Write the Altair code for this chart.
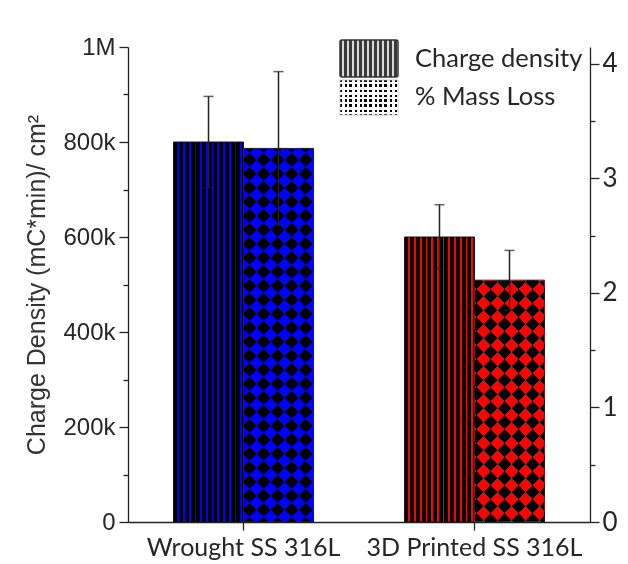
import altair as alt
import pandas as pd

# ---------------- data ----------------
categories = ["Wrought SS 316L", "3D Printed SS 316L"]
series = ["Charge density", "% Mass Loss"]
charge_density = [800000, 600000]
charge_error = [96000, 68000]
mass_loss = [3.26, 2.11]
mass_error = [0.67, 0.26]
bar_colors = ["#0000ff", "#ff0000"]

# ---------------- layout ----------------
W, H = 462, 475
LEFT_MAX = 1_000_000
RIGHT_MAX = 4.145
P_OUT = 0.65
BAR_W = (W / len(categories)) / (2 + 2 * P_OUT)

charge_df = pd.DataFrame({"category": categories, "series": series[0],
                          "value": charge_density, "err": charge_error})
charge_df["lo"] = charge_df["value"] - charge_df["err"]
charge_df["hi"] = charge_df["value"] + charge_df["err"]
mass_df = pd.DataFrame({"category": categories, "series": series[1],
                        "value": mass_loss, "err": mass_error})
mass_df["lo"] = mass_df["value"] - mass_df["err"]
mass_df["hi"] = mass_df["value"] + mass_df["err"]


def stripe_stops(total, pattern, shift=0.0):
    """Sharp-edged gradient stops repeating `pattern` [(px, colour), ...] over `total` px."""
    stops = []
    pos = -shift
    while pos < total:
        for length, col in pattern:
            a, b = max(pos, 0.0), min(pos + length, total)
            if b > a:
                stops.append({"offset": round(a / total, 5), "color": col})
                stops.append({"offset": round(b / total, 5), "color": col})
            pos += length
    return stops


def vertical_stripes(width, pattern, shift=0.0):
    return {"gradient": "linear", "x1": 0, "y1": 0, "x2": 1, "y2": 0,
            "stops": stripe_stops(width, pattern, shift)}


def horizontal_stripes(height, pattern, shift=0.0):
    return {"gradient": "linear", "x1": 0, "y1": 0, "x2": 0, "y2": 1,
            "stops": stripe_stops(height, pattern, shift)}


def diagonal(w, h, pattern, rising=True, shift=0.0):
    c = (w + h) / (w * w + h * h)
    dx, dy = c * w, c * h
    if rising:
        g = {"x1": 0, "y1": 0, "x2": round(dx, 5), "y2": round(dy, 5)}
    else:
        g = {"x1": 0, "y1": 1, "x2": round(dx, 5), "y2": round(1 - dy, 5)}
    g.update({"gradient": "linear", "stops": stripe_stops(w + h, pattern, shift)})
    return g


AX = "#222222"
x_enc = alt.X("category:N", sort=categories,
              scale=alt.Scale(paddingInner=0, paddingOuter=0),
              axis=alt.Axis(title=None, labelFont="Lato", labelFontSize=25,
                            labelColor="#262626", labelPadding=5, tickSize=8,
                            labelAngle=0, labelLimit=400, domainColor=AX, tickColor=AX,
                            domainWidth=1.3, tickWidth=1.3))
xo_enc = alt.XOffset("series:N", sort=series,
                     scale=alt.Scale(domain=series, paddingInner=0, paddingOuter=P_OUT))

left_scale = alt.Scale(domain=[0, LEFT_MAX], nice=False, zero=True)
right_scale = alt.Scale(domain=[0, RIGHT_MAX], nice=False, zero=True)

left_axis = alt.Axis(
    title="Charge Density (mC*min)/ cm²",
    values=[i * 100000 for i in range(11)],
    labelExpr=("datum.value % 200000 !== 0 ? '' : datum.value === 0 ? '0' : "
               "datum.value >= 1000000 ? (datum.value / 1000000) + 'M' : "
               "(datum.value / 1000) + 'k'"),
    tickSize={"condition": {"test": "datum.value % 200000 === 0", "value": 9}, "value": 5},
    labelFont="Liberation Sans", labelFontSize=24, labelColor="#262626", labelPadding=4,
    titleFont="Liberation Sans", titleFontSize=25, titleFontWeight="normal",
    titleColor="#333333", titlePadding=13, labelOverlap=False,
    domainColor=AX, tickColor=AX, domainWidth=1.3, tickWidth=1.3, grid=False)

right_axis = alt.Axis(
    orient="right", title=None,
    values=[i * 0.5 for i in range(9)],
    labelExpr="datum.value % 1 === 0 ? format(datum.value, '.0f') : ''",
    tickSize={"condition": {"test": "datum.value % 1 === 0", "value": 9}, "value": 5},
    labelFont="Lato", labelFontSize=26, labelColor="#262626", labelPadding=3,
    labelOverlap=False, domainColor=AX, tickColor=AX, domainWidth=1.3,
    tickWidth=1.3, grid=False)

# ---------------- charge density bars (vertical stripes) ----------------
charge_layers = []
for i, cat in enumerate(categories):
    grad = vertical_stripes(BAR_W, [(4.0, "#000000"), (1.7, bar_colors[i])])
    charge_layers.append(
        alt.Chart(charge_df).transform_filter(alt.datum.category == cat)
        .mark_bar(fill=grad, stroke="#1a1a1a", strokeWidth=1)
        .encode(x=x_enc, xOffset=xo_enc,
                y=alt.Y("value:Q", scale=left_scale, axis=left_axis)))

charge_layers.append(
    alt.Chart(charge_df).mark_rule(color=AX, strokeWidth=1.5)
    .encode(x=x_enc, xOffset=xo_enc,
            y=alt.Y("lo:Q", scale=left_scale, axis=left_axis), y2="hi:Q"))
charge_layers.append(
    alt.Chart(charge_df).transform_fold(["lo", "hi"], as_=["end", "pos"])
    .mark_tick(color=AX, thickness=1.5, size=10)
    .encode(x=x_enc, xOffset=xo_enc,
            y=alt.Y("pos:Q", scale=left_scale, axis=left_axis)))

# ---------------- mass loss bars (diamond checks) ----------------
mass_layers = []
for i, cat in enumerate(categories):
    h = mass_loss[i] / RIGHT_MAX * H
    patt = [(14.0, "#000000"), (14.0, bar_colors[i])]
    patt2 = [(14.0, bar_colors[i]), (14.0, "#000000")]
    mass_layers.append(
        alt.Chart(mass_df).transform_filter(alt.datum.category == cat)
        .mark_bar(fill=diagonal(BAR_W, h, patt, True, 3.0), stroke="#1a1a1a", strokeWidth=1)
        .encode(x=x_enc, xOffset=xo_enc,
                y=alt.Y("value:Q", scale=right_scale, axis=right_axis)))
    mass_layers.append(
        alt.Chart(mass_df).transform_filter(alt.datum.category == cat)
        .mark_bar(fill=diagonal(BAR_W, h, patt2, False, 3.0), strokeWidth=0,
                  blend="difference")
        .encode(x=x_enc, xOffset=xo_enc,
                y=alt.Y("value:Q", scale=right_scale, axis=right_axis)))

mass_layers.append(
    alt.Chart(mass_df).mark_rule(color=AX, strokeWidth=1.5)
    .encode(x=x_enc, xOffset=xo_enc,
            y=alt.Y("lo:Q", scale=right_scale, axis=right_axis), y2="hi:Q"))
mass_layers.append(
    alt.Chart(mass_df).transform_fold(["lo", "hi"], as_=["end", "pos"])
    .mark_tick(color=AX, thickness=1.5, size=10)
    .encode(x=x_enc, xOffset=xo_enc,
            y=alt.Y("pos:Q", scale=right_scale, axis=right_axis)))

# ---------------- legend (pattern swatches) ----------------
leg0 = pd.DataFrame({"series": [series[0]]})
leg1 = pd.DataFrame({"series": [series[1]]})
SW_X0, SW_X1 = 212, 270
legend_layers = [
    alt.Chart(leg0).mark_rect(
        fill=vertical_stripes(SW_X1 - SW_X0, [(3.0, "#3a3a3a"), (2.0, "#d8d8d8")], 1.0),
        stroke="#333333", strokeWidth=1.5, cornerRadius=2)
    .encode(x=alt.value(SW_X0), x2=alt.value(SW_X1), y=alt.value(-7), y2=alt.value(30)),
    alt.Chart(leg1).mark_rect(
        fill=vertical_stripes(SW_X1 - SW_X0, [(2.6, "#000000"), (2.4, "#ffffff")], 0.5),
        stroke="#bbbbbb", strokeWidth=0.8)
    .encode(x=alt.value(SW_X0), x2=alt.value(SW_X1), y=alt.value(33), y2=alt.value(68)),
    alt.Chart(leg1).mark_rect(
        fill=horizontal_stripes(35, [(2.6, "#000000"), (2.4, "#ffffff")], 0.5),
        strokeWidth=0, blend="screen")
    .encode(x=alt.value(SW_X0), x2=alt.value(SW_X1), y=alt.value(33), y2=alt.value(68)),
    alt.Chart(leg0).mark_text(align="left", baseline="alphabetic", font="Lato",
                              fontSize=25.5, color="#262626")
    .encode(text="series:N", x=alt.value(287), y=alt.value(20)),
    alt.Chart(leg1).mark_text(align="left", baseline="alphabetic", font="Lato",
                              fontSize=25.5, color="#262626")
    .encode(text="series:N", x=alt.value(287), y=alt.value(58)),
]

left = alt.layer(*charge_layers)
right = alt.layer(*mass_layers)
legend = alt.layer(*legend_layers)

chart = (
    alt.layer(left, right, legend)
    .resolve_scale(y="independent")
    .properties(width=W, height=H,
                padding={"left": 120, "top": 39, "right": 30, "bottom": 41},
                autosize=alt.AutoSizeParams(type="none"))
    .configure_view(strokeWidth=0)
    .configure_axis(grid=False)
)

chart.save("out.html", embed_options={"renderer": "svg", "actions": False})
